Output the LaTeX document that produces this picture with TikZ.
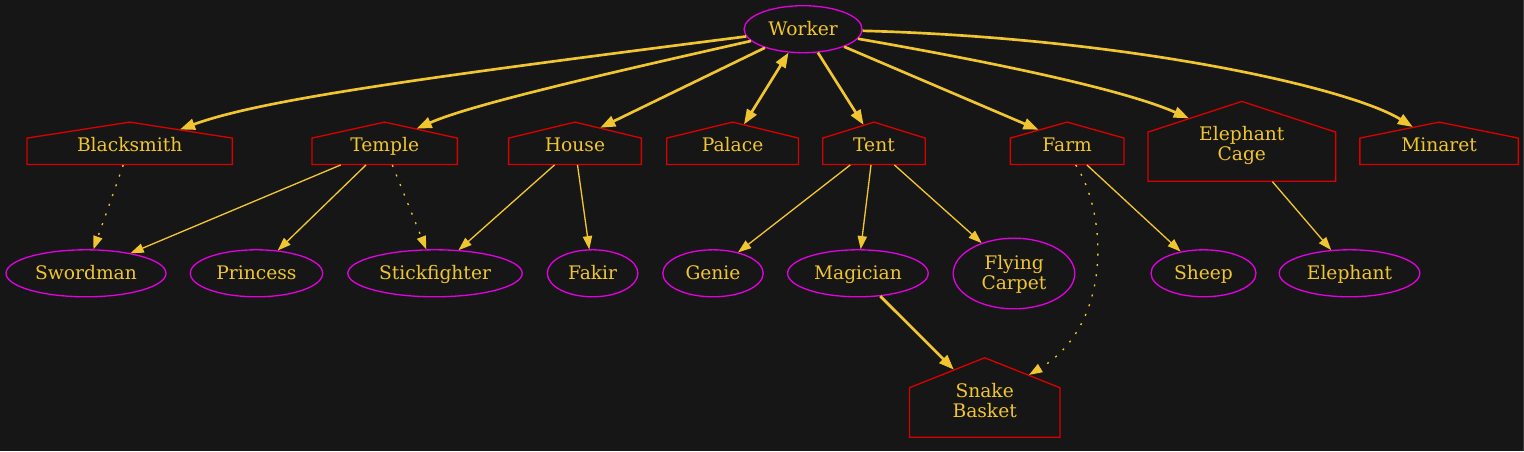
\documentclass[tikz,border=0pt]{standalone}
\usepackage{fontspec}
\setmainfont{DejaVu Serif}
\usetikzlibrary{shapes.geometric,arrows.meta,calc}
\definecolor{bg}{HTML}{161616}
\definecolor{gold}{HTML}{F0C530}
\definecolor{hred}{HTML}{D80000}
\definecolor{mag}{HTML}{E000E0}
\definecolor{edgegray}{HTML}{3C3C3C}
\newcommand\twoline[2]{\vtop{\halign{\hfil##\hfil\cr#1\cr#2\cr}}}
\newcommand\drawhouse[2]{\draw[houseline] (#1.south west) -- ($(#1.north west)+(0,#2)$) -- (#1.north) -- ($(#1.north east)+(0,#2)$) -- (#1.south east) -- cycle;}
\tikzset{
  bigtip/.tip={Triangle[length=15pt,width=11pt]},
  smalltip/.tip={Triangle[length=13.3pt,width=9.3pt]},
}
\begin{document}
\begin{tikzpicture}[x=1pt,y=-1pt,
  every node/.style={text=gold, font=\fontsize{18.67pt}{20pt}\selectfont},
  ell/.style={ellipse, draw=mag, line width=1.33pt, inner sep=0pt, minimum height=47pt, text height=12.6pt, text depth=1pt},
  hbox/.style={rectangle, draw=none, inner sep=0pt, minimum height=42pt, text height=15.6pt, text depth=0pt},
  houseline/.style={draw=hred, line width=1.33pt, line join=miter},
  bigedge/.style={draw=gold, line width=2.67pt, -bigtip},
  thinedge/.style={draw=gold, line width=1.33pt, -smalltip},
  dotedge/.style={thinedge, dash pattern=on 2pt off 8.3pt},
]
\fill[bg] (0,0) rectangle (1524,451);
\useasboundingbox (0,0) rectangle (1524,451);
\fill[edgegray] (1523,0) rectangle (1524,451);

% top node
\node[ell, minimum width=118pt] (worker) at (803.1,29.2) {Worker};

% house-shaped nodes
\node[hbox, minimum width=205pt] (blacksmith) at (129.7,143.3) {Blacksmith};
\node[hbox, minimum width=145pt] (temple) at (384.7,143.3) {Temple};
\node[hbox, minimum width=132.3pt] (house) at (575,143.3) {House};
\node[hbox, minimum width=131.4pt] (palace) at (732.6,143.3) {Palace};
\node[hbox, minimum width=102pt] (tent) at (874,143.3) {Tent};
\node[hbox, minimum width=113.3pt] (farm) at (1067.2,143.3) {Farm};
\node[hbox, minimum width=187.2pt, minimum height=79.4pt, text height=6pt, text depth=6.8pt] (cage) at (1241.8,141.3) {\twoline{Elephant}{Cage}};
\node[hbox, minimum width=158.1pt] (minaret) at (1439.1,143.3) {Minaret};
\node[hbox, minimum width=150.1pt, minimum height=79.1pt, text height=6pt, text depth=6.8pt] (basket) at (984.7,397.5) {\twoline{Snake}{Basket}};

\drawhouse{blacksmith}{16}
\drawhouse{temple}{16}
\drawhouse{house}{16}
\drawhouse{palace}{16}
\drawhouse{tent}{16}
\drawhouse{farm}{16}
\drawhouse{cage}{30.7}
\drawhouse{minaret}{16}
\drawhouse{basket}{30}

% ellipse nodes
\node[ell, minimum width=160pt] (swordman) at (86,273.3) {Swordman};
\node[ell, minimum width=132.4pt] (princess) at (256.5,273.3) {Princess};
\node[ell, minimum width=174.4pt] (stickfighter) at (435,273.3) {Stickfighter};
\node[ell, minimum width=90.6pt] (fakir) at (592.6,273.3) {Fakir};
\node[ell, minimum width=100.4pt] (genie) at (713,273.3) {Genie};
\node[ell, minimum width=140.6pt] (magician) at (857.9,273.3) {Magician};
\node[ell, minimum width=121.6pt, minimum height=70.6pt, text height=4pt, text depth=12.4pt] (carpet) at (1014,273.5) {\twoline{Flying}{Carpet}};
\node[ell, minimum width=105pt] (sheep) at (1203.5,273.3) {Sheep};
\node[ell, minimum width=140.6pt] (elephant) at (1349.5,273.3) {Elephant};

% edges from Worker
\draw[bigedge] (worker) .. controls (420,78) and (260,100) .. ($(blacksmith)+(50.3,-13.84)$);
\draw[bigedge] (worker) .. controls (600,75) and (470,105) .. ($(temple)+(32,-14.64)$);
\draw[bigedge] (worker) -- ($(house)+(25.3,-15.58)$);
\draw[bigedge, bigtip-bigtip] (worker) -- ($(palace)+(11.4,-18.9)$);
\draw[bigedge] (worker) -- ($(tent)+(-10.4,-18.4)$);
\draw[bigedge] (worker) -- ($(farm)+(-28.8,-13.6)$);
\draw[bigedge] (worker) .. controls (980,60) and (1120,88) .. ($(cage)+(-53,-23.06)$);
\draw[bigedge] (worker) .. controls (1130,38) and (1350,88) .. ($(minaret)+(-26.3,-16.36)$);

% lower edges
\draw[dotedge] ($(blacksmith)+(-6.4,21.65)$) -- ($(swordman)+(7.5,-23.9)$);
\draw[thinedge] ($(temple)+(-44,21.65)$) -- ($(swordman)+(44.4,-20.0)$);
\draw[thinedge] ($(temple)+(-18.7,21.65)$) -- ($(princess)+(21.2,-22.76)$);
\draw[dotedge] ($(temple)+(7.6,21.65)$) -- ($(stickfighter)+(-8.7,-23.88)$);
\draw[thinedge] ($(house)+(-20.5,21.65)$) -- ($(stickfighter)+(23.5,-23.12)$);
\draw[thinedge] ($(house)+(2.5,21.65)$) -- ($(fakir)+(-3.3,-23.94)$);
\draw[thinedge] ($(tent)+(-23.7,21.65)$) -- ($(genie)+(25,-20.88)$);
\draw[thinedge] ($(tent)+(-3,21.65)$) -- ($(magician)+(2.8,-23.99)$);
\draw[thinedge] ($(tent)+(20.4,21.65)$) -- ($(carpet)+(-32.3,-30.43)$);
\draw[thinedge] ($(farm)+(19.7,21.65)$) -- ($(sheep)+(-22.8,-21.67)$);
\draw[dotedge] ($(farm)+(8.5,21.65)$) .. controls (1108,215) and (1112,325) .. ($(basket)+(44.3,-22.6)$);
\draw[thinedge] ($(cage)+(30.6,40.35)$) -- ($(elephant)+(-18.3,-23.18)$);
\draw[bigedge] ($(magician)+(22.3,22.78)$) -- ($(basket)+(-30.9,-27.9)$);
\end{tikzpicture}
\end{document}
